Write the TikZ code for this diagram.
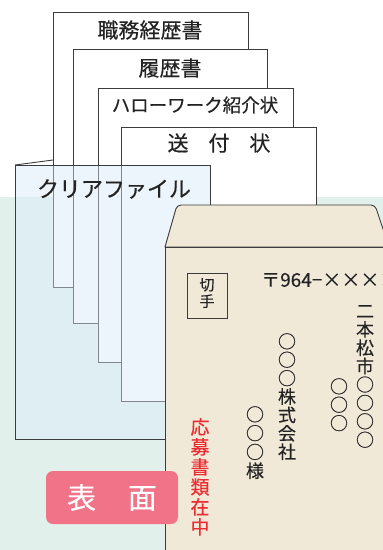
\documentclass[tikz,border=0pt]{standalone}
\usepackage{fontspec}
\setmainfont{Noto Sans CJK JP}[FakeBold=0.35]
\definecolor{bggreen}{RGB}{226,240,236}
\definecolor{filefill}{RGB}{220,237,250}
\definecolor{envfill}{RGB}{241,233,216}
\definecolor{edge}{RGB}{60,60,60}
\definecolor{inedge}{RGB}{130,135,140}
\definecolor{pinkbox}{RGB}{240,115,136}
\definecolor{redtext}{RGB}{234,45,50}
\definecolor{ink}{RGB}{35,35,35}
\tikzset{
  paper/.style={draw=edge, line width=0.9pt, fill=white},
  papertext/.style={font=\fontsize{21}{24}\selectfont, text=ink, inner sep=0pt},
  vcol/.style={font=\fontsize{18}{18.4}\selectfont, align=center, anchor=north, inner sep=0pt, text=ink},
}
\begin{document}
\begin{tikzpicture}[x=1pt,y=-1pt]
\useasboundingbox (0,0) rectangle (383,550);
\clip (0,0) rectangle (383,550);
% background
\fill[white] (0,0) rectangle (383,550);
\fill[bggreen] (0,197) rectangle (383,550);
% back cover tab of clear file
\draw[edge, line width=0.9pt] (15,165) -- (53,160);
% papers
\draw[paper] (53,12) rectangle (248,287);
\node[papertext] (p1) at (150,30) {職務経歴書};
\draw[paper] (73,49) rectangle (267,323);
\node[papertext] (p2) at (170,68) {履歴書};
\draw[paper] (98,88) rectangle (293,362);
\node[papertext, font=\fontsize{18.5}{22}\selectfont] (p3) at (195,105) {ハローワーク紹介状};
\draw[paper] (121,127) rectangle (316,401);
\node[papertext] (p4) at (219,143) {送\hspace{0.95em}付\hspace{0.95em}状};
% clear file (semi-transparent)
\fill[filefill, opacity=0.5] (15,165) rectangle (210,439);
% inner paper edges seen through file
\begin{scope}
\clip (15,165) rectangle (210,439);
\draw[inedge, line width=0.9pt] (53,160) -- (53,287) -- (73,287);
\draw[inedge, line width=0.9pt] (73,160) -- (73,323) -- (98,323);
\draw[inedge, line width=0.9pt] (98,160) -- (98,362) -- (121,362);
\draw[inedge, line width=0.9pt] (121,160) -- (121,401) -- (210,401);
\end{scope}
\draw[edge, line width=0.9pt] (15,165) rectangle (210,439);
\node[font=\fontsize{22}{24}\selectfont, text=ink, inner sep=0pt] (cf) at (114,189) {クリアファイル};
% envelope
\draw[edge, line width=0.9pt, fill=envfill, rounded corners=4pt]
  (165,247) -- (177,205) -- (375,205) -- (390,250) [sharp corners] -- (390,247) -- cycle;
\draw[edge, line width=0.9pt, fill=envfill] (165,560) -- (165,247) -- (390,247) -- (390,560);
% stamp box
\draw[edge, line width=0.8pt] (187,273) rectangle (227,318);
\node[vcol, font=\fontsize{15}{16.5}\selectfont] (stamp) at (207,278) {切\\手};
% postal code
\node[anchor=west, font=\fontsize{19}{20}\selectfont, text=ink, inner sep=0pt] (zip) at (261,280) {〒964−××××};
% address columns
\node[vcol] (addr1) at (365,305) {二\\本\\松\\市\\○\\○\\○\\○};
\node[vcol] (addr2) at (339,378) {○\\○\\○};
\node[vcol] (comp) at (287,333) {○\\○\\○\\株\\式\\会\\社};
\node[vcol, font=\fontsize{18}{18.8}\selectfont] (name) at (255,406) {○\\○\\○\\様};
\node[vcol, font=\fontsize{19}{20}\selectfont, text=redtext] (oubo) at (200,418) {応\\募\\書\\類\\在\\中};
% label pill
\node[fill=pinkbox, rounded corners=7pt, minimum width=132pt, minimum height=53pt, inner sep=0pt,
      text=white, font=\fontsize{29}{32}\selectfont] (omote) at (112,497.5) {表\hspace{1.1em}面};
\end{tikzpicture}
\end{document}
